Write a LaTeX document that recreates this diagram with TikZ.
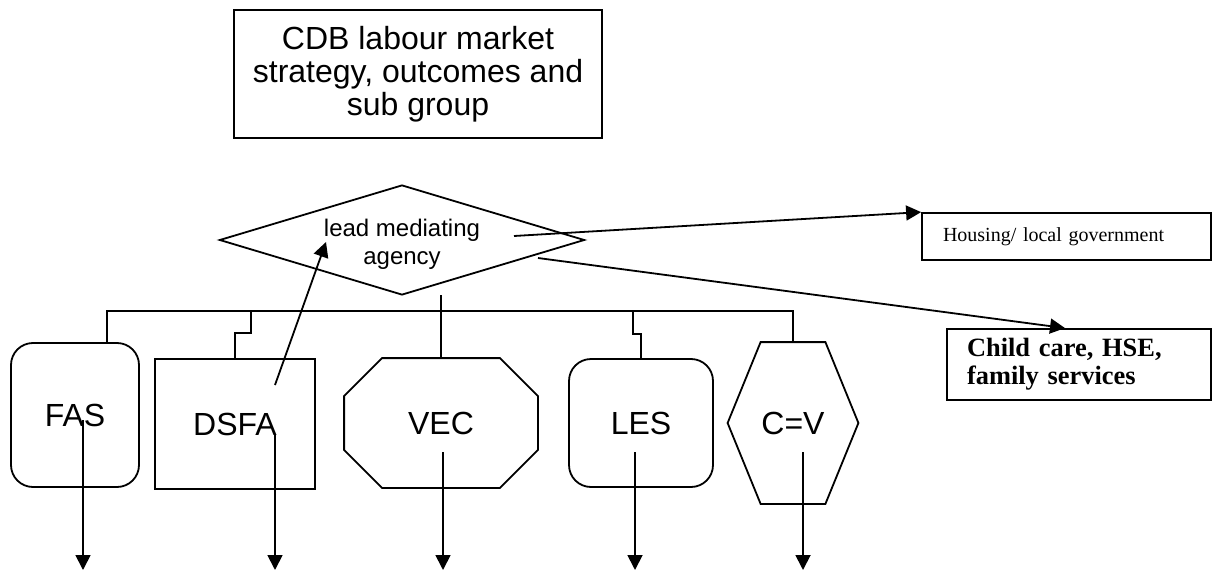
\documentclass[tikz,border=0pt]{standalone}
\usepackage{fontspec}
\setmainfont{Liberation Serif}
\newfontfamily\arialfont{Liberation Sans}
\usetikzlibrary{shapes.geometric,arrows.meta}

\begin{document}
\begin{tikzpicture}[x=0.5pt,y=-0.5pt,line width=0.9pt,
    agency/.style={rectangle,draw,inner sep=0pt,font=\arialfont\fontsize{16}{16}\selectfont},
    outline/.style={rectangle,inner sep=0pt,font=\arialfont\fontsize{16}{16}\selectfont},
    arr/.style={-{Triangle[width=7.5pt,length=7.5pt]}}]
    \useasboundingbox (0,0) rectangle (1213,577);
    % top box and mediating agency
    \node (cdb) at (418,74) [draw,minimum width=184pt,minimum height=64pt,align=center,
        font=\arialfont\fontsize{16}{16.5}\selectfont] {CDB labour market\\strategy, outcomes and\\sub group};
    \node (lma) at (402,240) [diamond,draw,aspect=3.3,inner sep=0pt,minimum width=182.5pt,
        minimum height=55pt,font=\arialfont\fontsize{12}{14}\selectfont]
        {\raisebox{-2.5pt}[\height][\depth]{\begin{tabular}{@{}c@{}}lead mediating\\agency\end{tabular}}};
    \node (housing) at (1066.5,236.5) [draw,text width=123.5pt,inner xsep=10.5pt,minimum height=23.5pt,
        align=left,font=\fontsize{10}{12}\selectfont] {Housing/ local government};
    \node (child) at (1079,364.5) [draw,text width=112pt,inner xsep=10pt,minimum height=35.5pt,
        align=left,font=\bfseries\fontsize{13.2}{14}\selectfont] {Child care, HSE,\\family services};
    % agencies
    \node (fas)  at (75,415)    [agency,rounded corners=11pt,minimum width=64pt,minimum height=72pt] {FAS};
    \node (dsfa) at (235,424)   [agency,minimum width=80pt,minimum height=65pt] {DSFA};
    \node (vec)  at (441,423)   [outline,minimum width=96pt,minimum height=64pt] {VEC};
    \node (les)  at (641,423)   [agency,rounded corners=11pt,minimum width=72pt,minimum height=64pt] {LES};
    \node (cv)   at (793,423)   [outline,minimum width=64.5pt,minimum height=80pt] {C=V};
    \draw ([xshift=19pt]vec.north west) -- ([xshift=-19pt]vec.north east) -- ([yshift=-19pt]vec.north east)
        -- ([yshift=19pt]vec.south east) -- ([xshift=-19pt]vec.south east) -- ([xshift=19pt]vec.south west)
        -- ([yshift=19pt]vec.south west) -- ([yshift=-19pt]vec.north west) -- cycle;
    \draw ([xshift=16.5pt]cv.north west) -- ([xshift=-16.5pt]cv.north east) -- (cv.east)
        -- ([xshift=-16.5pt]cv.south east) -- ([xshift=16.5pt]cv.south west) -- (cv.west) -- cycle;
    % bus
    \coordinate (busl) at (107,311);
    \coordinate (busr) at (793,311);
    \coordinate (vtop) at (441,295);
    \coordinate (bot)  at (0,570);
    \draw ([xshift=16pt]fas.north) -- (busl) -- (busr) -- (cv.north);
    \draw (dsfa.north) -- ++(0,-25) -- ++(16,0) -- ++(0,-23);
    \draw (les.north) -- ++(0,-24) -- ++(-8,0) -- ++(0,-24);
    \draw (vtop) -- (vec.north);
    % arrows
    \draw[arr] ([xshift=20pt,yshift=19.5pt]dsfa.center) -- ([xshift=-38pt,yshift=-1pt]lma.center);
    \draw[arr] ([xshift=56pt,yshift=2pt]lma.center) -- (housing.north west);
    \draw[arr] ([xshift=68pt,yshift=-9pt]lma.center) -- ([xshift=-7pt]child.north);
    \foreach \n/\dx/\dy in {fas/4/-2.5,dsfa/20/-5.5,vec/1/-14.5,les/-3/-14.5,cv/5/-14.5}
        \draw[arr] ([xshift=\dx pt,yshift=\dy pt]\n.center) -- ([xshift=\dx pt]\n.center |- bot);
\end{tikzpicture}
\end{document}
